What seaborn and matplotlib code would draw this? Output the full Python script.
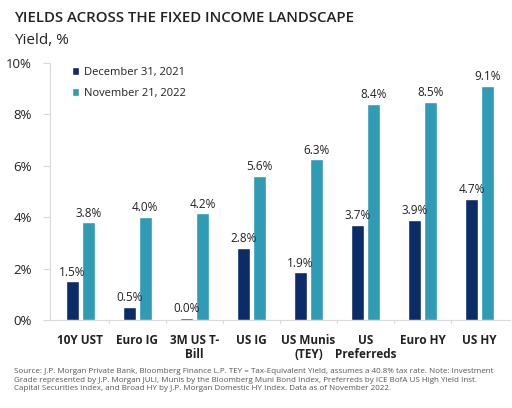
import matplotlib
matplotlib.use("Agg")
import matplotlib.pyplot as plt
import pandas as pd
import seaborn as sns

# values
categories = ["10Y UST", "Euro IG", "3M US T-\nBill", "US IG", "US Munis\n(TEY)",
              "US\nPreferreds", "Euro HY", "US HY"]
dec_2021 = [1.5, 0.5, 0.08, 2.8, 1.85, 3.7, 3.9, 4.7]
nov_2022 = [3.8, 4.0, 4.15, 5.6, 6.25, 8.4, 8.5, 9.1]
dec_labels = ["1.5%", "0.5%", "0.0%", "2.8%", "1.9%", "3.7%", "3.9%", "4.7%"]
nov_labels = ["3.8%", "4.0%", "4.2%", "5.6%", "6.3%", "8.4%", "8.5%", "9.1%"]
series = ["December 31, 2021", "November 21, 2022"]

df = pd.DataFrame({
    "category": categories * 2,
    "series": [series[0]] * len(categories) + [series[1]] * len(categories),
    "yield": dec_2021 + nov_2022,
})

sns.set_style("white")
plt.rcParams["font.family"] = ["Open Sans", "DejaVu Sans"]

navy = "#0c2c69"
teal = "#2f9bb4"
text_col = "#222222"
grid_col = "#d9d9d9"

fig = plt.figure(figsize=(5.12, 4.08), dpi=100)
ax = fig.add_axes([50 / 512, 1 - 320 / 408, 460 / 512, 257 / 408])

sns.barplot(data=df, x="category", y="yield", hue="series", order=categories,
            hue_order=series, palette=[navy, teal], width=0.56, gap=0.21,
            saturation=1, ax=ax)

for cont, labels in zip(ax.containers, [dec_labels, nov_labels]):
    ax.bar_label(cont, labels=labels, padding=2, fontsize=8.5, color=text_col)

ax.set_ylim(0, 10)
ax.set_xlim(-0.53, 7.53)
ax.set_yticks([0, 2, 4, 6, 8, 10])
ax.set_yticklabels(["0%", "2%", "4%", "6%", "8%", "10%"], fontsize=9.5, color=text_col)
ax.set_xticks(range(len(categories)))
ax.set_xticklabels(categories, fontsize=8.5, fontweight="bold", color=text_col,
                   linespacing=1.15)
ax.tick_params(axis="x", length=0, pad=10)
ax.tick_params(axis="y", length=5, color=grid_col, pad=8, left=True)
# small separators between categories on the baseline
for b in [i + 0.5 for i in range(len(categories) - 1)]:
    ax.plot([b, b], [0, -0.12], color=grid_col, lw=0.8, clip_on=False)
ax.set_xlabel("")
ax.set_ylabel("")

for s in ["top", "right"]:
    ax.spines[s].set_visible(False)
for s in ["left", "bottom"]:
    ax.spines[s].set_color(grid_col)
    ax.spines[s].set_linewidth(0.8)
    ax.spines[s].set_zorder(0.5)

leg = ax.legend(loc="upper left", bbox_to_anchor=(0.025, 1.025), frameon=False,
                fontsize=8, handlelength=0.7, handleheight=0.7, handletextpad=0.4,
                labelspacing=0.9, labelcolor=text_col)

fig.text(14 / 512, 1 - 18 / 408, "YIELDS ACROSS THE FIXED INCOME LANDSCAPE",
         fontsize=10.8, fontweight="semibold", color=text_col, va="center", ha="left")
fig.text(14 / 512, 1 - 41 / 408, "Yield, %", fontsize=11, color=text_col,
         va="center", ha="left")

footer = ("Source: J.P. Morgan Private Bank, Bloomberg Finance L.P. TEY = Tax-Equivalent Yield, "
          "assumes a 40.8% tax rate. Note: Investment\n"
          "Grade represented by J.P. Morgan JULI, Munis by the Bloomberg Muni Bond Index, "
          "Preferreds by ICE BofA US High Yield Inst.\n"
          "Capital Securities Index, and Broad HY by J.P. Morgan Domestic HY Index. "
          "Data as of November 2022.")
fig.text(14 / 512, 1 - 368 / 408, footer, fontsize=5.75, color="#555555",
         va="top", ha="left", linespacing=1.3)

fig.savefig("out.png", dpi=100)
